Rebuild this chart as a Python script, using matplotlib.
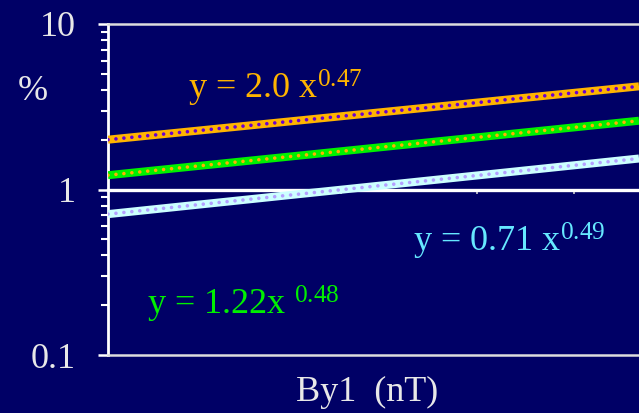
import numpy as np
import matplotlib.pyplot as plt
from matplotlib.ticker import NullLocator, FixedLocator, LogLocator

plt.rcParams['font.family'] = ['Liberation Serif', 'DejaVu Serif']
plt.rcParams['mathtext.fontset'] = 'custom'
plt.rcParams['mathtext.rm'] = 'Liberation Serif'
plt.rcParams['mathtext.it'] = 'Liberation Serif'

# fitted power laws y = a * x^b
coefs = [2.0, 1.22, 0.71]
exps = [0.47, 0.48, 0.49]
labels = ['y = 2.0 x$^{0.47}$', 'y = 1.22x $^{0.48}$', 'y = 0.71 x$^{0.49}$']
line_colors = ['#FFB400', '#00F000', '#CCFFFF']
dot_colors = ['#6A00D0', '#FFB000', '#B4A0FF']
text_colors = ['#FFB400', '#00F000', '#66E8FF']
text_pos = [(188, 99), (147, 315), (413, 252)]  # pixel left / baseline

x_ticks = [2, 3, 4]
xmin, xmax = 1, 4.85

bg = '#000066'
W, H = 639, 413

fig = plt.figure(figsize=(W / 100, H / 100), dpi=100, facecolor=bg)
ax = fig.add_axes([108 / W, (H - 355) / H, 1 - 108 / W, (355 - 24) / H], facecolor=bg)

xs = np.linspace(xmin, xmax, 50)
for a, b, lc, dc in zip(coefs, exps, line_colors, dot_colors):
    ys = a * xs ** b
    ax.plot(xs, ys, color=lc, lw=5.8, solid_capstyle='butt', zorder=3)
    ax.plot(xs, ys, color=dc, lw=2.6, linestyle=(0, (0.01, 2.2)),
            dash_capstyle='round', zorder=4)

ax.set_xscale('log')
ax.set_yscale('log')
ax.set_xlim(xmin, xmax)
ax.set_ylim(0.1, 10)

# x axis crosses at y = 1
ax.spines['bottom'].set_position(('data', 1))
ax.spines['bottom'].set_color('white')
ax.spines['bottom'].set_linewidth(2.4)
ax.spines['right'].set_visible(False)
ax.spines['top'].set_color('#DDDDDD')
ax.spines['top'].set_linewidth(1.8)
ax.spines['left'].set_color('white')
ax.spines['left'].set_linewidth(2)
ax.axhline(0.1, color='#DDDDDD', lw=1.8, clip_on=False, zorder=5)

ax.xaxis.set_major_locator(FixedLocator(x_ticks))
ax.xaxis.set_minor_locator(NullLocator())
ax.set_xticklabels([])
ax.tick_params(axis='x', which='major', direction='out', length=3, width=1.2, color='#CCCCCC')

ax.yaxis.set_major_locator(LogLocator(base=10, numticks=5))
ax.yaxis.set_minor_locator(LogLocator(base=10, subs=np.arange(2, 10), numticks=10))
ax.set_yticks([0.1, 1, 10])
ax.set_yticklabels(['0.1', '1', '10'])
ax.tick_params(axis='y', which='major', direction='out', length=7.2, width=1.8,
               color='white', labelsize=26, labelcolor='#E8E8E8', pad=16)
ax.tick_params(axis='y', which='minor', direction='out', length=5, width=1.5, color='white')

for lab, tc, (px, py) in zip(labels, text_colors, text_pos):
    fig.text(px / W, 1 - py / H, lab, color=tc, fontsize=26, ha='left', va='baseline')

fig.text(33 / W, 1 - 92 / H, '%', color='#E8E8E8', fontsize=26, ha='center', va='center')
fig.text(367 / W, 1 - 392 / H, 'By1  (nT)', color='#E8E8E8', fontsize=26, ha='center', va='center')

fig.savefig('out.png', dpi=100, facecolor=bg)
